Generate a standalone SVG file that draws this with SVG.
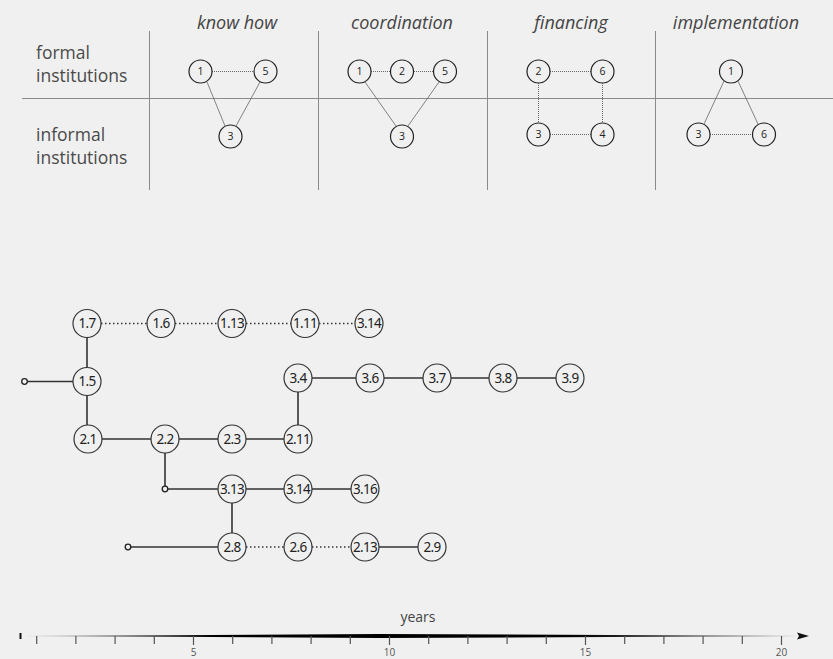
<svg xmlns="http://www.w3.org/2000/svg" width="833" height="659" viewBox="0 0 833 659">
<style>
.bg{fill:#f0f0f0}
.grid{stroke:#8a8a8a;stroke-width:1;fill:none}
.hdr{font-family:"Open Sans","Noto Sans",sans-serif;font-style:italic;font-size:18px;fill:#444;text-anchor:middle}
.row{font-family:"Open Sans","Noto Sans",sans-serif;font-size:17.5px;fill:#4a4a4a}
.sn circle{fill:#f0f0f0;stroke:#222;stroke-width:1.2}
.sn text{font-family:"Open Sans","Noto Sans",sans-serif;font-size:10.5px;fill:#222;text-anchor:middle}
.n circle{fill:#f0f0f0;stroke:#333;stroke-width:1.2}
.n text{font-family:"Noto Sans","Open Sans",sans-serif;font-size:13.5px;fill:#222;text-anchor:middle;letter-spacing:-0.7px}
.sd{stroke:#444;stroke-width:0.8;stroke-dasharray:1 1;fill:none}
.ss{stroke:#666;stroke-width:0.8;fill:none}
.e{stroke:#333;stroke-width:1.6;fill:none}
.d{stroke:#333;stroke-width:1.3;stroke-dasharray:1.5 2.5;fill:none}
.st{fill:#f0f0f0;stroke:#222;stroke-width:1.3}
.tick{stroke:#555;stroke-width:1.2}
.tl{font-family:"Open Sans","Noto Sans",sans-serif;font-size:10px;fill:#555;text-anchor:middle}
</style>
<defs>
<linearGradient id="ax" x1="20" y1="0" x2="800" y2="0" gradientUnits="userSpaceOnUse">
<stop offset="0" stop-color="#888"/>
<stop offset="0.25" stop-color="#000"/>
<stop offset="0.7" stop-color="#000"/>
<stop offset="1" stop-color="#777"/>
</linearGradient>
</defs>
<rect class="bg" x="0" y="0" width="833" height="659"/>

<g id="table">
<line class="grid" x1="22" y1="98.5" x2="833" y2="98.5"/>
<line class="grid" x1="149.5" y1="31" x2="149.5" y2="190"/>
<line class="grid" x1="318.5" y1="31" x2="318.5" y2="190"/>
<line class="grid" x1="487.5" y1="31" x2="487.5" y2="190"/>
<line class="grid" x1="655.5" y1="31" x2="655.5" y2="190"/>
<text class="hdr" x="237" y="29">know how</text>
<text class="hdr" x="402" y="29">coordination</text>
<text class="hdr" x="571" y="29">financing</text>
<text class="hdr" x="736" y="29">implementation</text>
<text class="row" x="36" y="59">formal</text>
<text class="row" x="36" y="82">institutions</text>
<text class="row" x="36" y="141">informal</text>
<text class="row" x="36" y="164">institutions</text>
</g>

<g id="small-edges">
<line class="sd" x1="212" y1="71.5" x2="254" y2="71.5"/>
<line class="ss" x1="207" y1="82" x2="225" y2="126"/>
<line class="ss" x1="260" y1="82" x2="236" y2="126"/>
<line class="sd" x1="371" y1="71.5" x2="390" y2="71.5"/>
<line class="sd" x1="414" y1="71.5" x2="433" y2="71.5"/>
<line class="ss" x1="365" y1="82" x2="396" y2="126"/>
<line class="ss" x1="439" y1="82" x2="408" y2="126"/>
<line class="sd" x1="550" y1="71.5" x2="591" y2="71.5"/>
<line class="sd" x1="538.5" y1="83" x2="538.5" y2="123"/>
<line class="sd" x1="602.5" y1="83" x2="602.5" y2="123"/>
<line class="sd" x1="550" y1="134.5" x2="591" y2="134.5"/>
<line class="ss" x1="724" y1="81" x2="704" y2="124"/>
<line class="ss" x1="738" y1="81" x2="758" y2="124"/>
<line class="sd" x1="710" y1="134.5" x2="752" y2="134.5"/>
</g>

<g id="kh1" class="sn"><circle cx="200.5" cy="71.5" r="11.5"/><text x="200.5" y="75">1</text></g>
<g id="kh5" class="sn"><circle cx="265.5" cy="71.5" r="11.5"/><text x="265.5" y="75">5</text></g>
<g id="kh3" class="sn"><circle cx="230.5" cy="136.5" r="11.5"/><text x="230.5" y="140">3</text></g>
<g id="co1" class="sn"><circle cx="359.5" cy="71.5" r="11.5"/><text x="359.5" y="75">1</text></g>
<g id="co2" class="sn"><circle cx="402" cy="71.5" r="11.5"/><text x="402" y="75">2</text></g>
<g id="co5" class="sn"><circle cx="445" cy="71.5" r="11.5"/><text x="445" y="75">5</text></g>
<g id="co3" class="sn"><circle cx="402" cy="136.5" r="11.5"/><text x="402" y="140">3</text></g>
<g id="fi2" class="sn"><circle cx="538.5" cy="71.5" r="11.5"/><text x="538.5" y="75">2</text></g>
<g id="fi6" class="sn"><circle cx="602.5" cy="71.5" r="11.5"/><text x="602.5" y="75">6</text></g>
<g id="fi3" class="sn"><circle cx="538.5" cy="134.5" r="11.5"/><text x="538.5" y="138">3</text></g>
<g id="fi4" class="sn"><circle cx="602.5" cy="134.5" r="11.5"/><text x="602.5" y="138">4</text></g>
<g id="im1" class="sn"><circle cx="731" cy="71.5" r="11.5"/><text x="731" y="75">1</text></g>
<g id="im3" class="sn"><circle cx="698.5" cy="134.5" r="11.5"/><text x="698.5" y="138">3</text></g>
<g id="im6" class="sn"><circle cx="764" cy="134.5" r="11.5"/><text x="764" y="138">6</text></g>

<g id="connectors">
<line class="e" x1="27" y1="381.5" x2="73" y2="381.5"/>
<line class="e" x1="87" y1="337" x2="87" y2="367"/>
<line class="e" x1="87" y1="396" x2="87" y2="425"/>
<line class="d" x1="101" y1="323.5" x2="147" y2="323.5"/>
<line class="d" x1="175" y1="323.5" x2="218" y2="323.5"/>
<line class="d" x1="246" y1="323.5" x2="291" y2="323.5"/>
<line class="d" x1="319" y1="323.5" x2="355" y2="323.5"/>
<line class="e" x1="102" y1="439" x2="151" y2="439"/>
<line class="e" x1="179" y1="439" x2="218" y2="439"/>
<line class="e" x1="246" y1="439" x2="284" y2="439"/>
<line class="e" x1="298" y1="392" x2="298" y2="425"/>
<line class="e" x1="312" y1="378" x2="356" y2="378"/>
<line class="e" x1="384" y1="378" x2="423" y2="378"/>
<line class="e" x1="451" y1="378" x2="489" y2="378"/>
<line class="e" x1="517" y1="378" x2="556" y2="378"/>
<line class="e" x1="165" y1="453" x2="165" y2="486"/>
<line class="e" x1="168" y1="489" x2="218" y2="489"/>
<line class="e" x1="246" y1="489" x2="284" y2="489"/>
<line class="e" x1="312" y1="489" x2="351" y2="489"/>
<line class="e" x1="232" y1="503" x2="232" y2="533"/>
<line class="e" x1="131" y1="547" x2="218" y2="547"/>
<line class="d" x1="246" y1="547" x2="284" y2="547"/>
<line class="d" x1="312" y1="547" x2="351" y2="547"/>
<line class="e" x1="379" y1="547" x2="418" y2="547"/>
<circle class="st" cx="24.5" cy="381.5" r="2.8"/>
<circle class="st" cx="165" cy="489" r="2.8"/>
<circle class="st" cx="128" cy="547" r="2.8"/>
</g>

<g id="n1_7" class="n"><circle cx="87" cy="323.5" r="14"/><text x="87" y="328">1.7</text></g>
<g id="n1_6" class="n"><circle cx="161" cy="323.5" r="14"/><text x="161" y="328">1.6</text></g>
<g id="n1_13" class="n"><circle cx="232" cy="323.5" r="14"/><text x="232" y="328">1.13</text></g>
<g id="n1_11" class="n"><circle cx="305" cy="323.5" r="14"/><text x="305" y="328">1.11</text></g>
<g id="n3_14a" class="n"><circle cx="369" cy="323.5" r="14"/><text x="369" y="328">3.14</text></g>
<g id="n1_5" class="n"><circle cx="87" cy="381.5" r="14"/><text x="87" y="386">1.5</text></g>
<g id="n2_1" class="n"><circle cx="88" cy="439" r="14"/><text x="88" y="443.5">2.1</text></g>
<g id="n2_2" class="n"><circle cx="165" cy="439" r="14"/><text x="165" y="443.5">2.2</text></g>
<g id="n2_3" class="n"><circle cx="232" cy="439" r="14"/><text x="232" y="443.5">2.3</text></g>
<g id="n2_11" class="n"><circle cx="298" cy="439" r="14"/><text x="298" y="443.5">2.11</text></g>
<g id="n3_4" class="n"><circle cx="298" cy="378" r="14"/><text x="298" y="382.5">3.4</text></g>
<g id="n3_6" class="n"><circle cx="370" cy="378" r="14"/><text x="370" y="382.5">3.6</text></g>
<g id="n3_7" class="n"><circle cx="437" cy="378" r="14"/><text x="437" y="382.5">3.7</text></g>
<g id="n3_8" class="n"><circle cx="503" cy="378" r="14"/><text x="503" y="382.5">3.8</text></g>
<g id="n3_9" class="n"><circle cx="570" cy="378" r="14"/><text x="570" y="382.5">3.9</text></g>
<g id="n3_13" class="n"><circle cx="232" cy="489" r="14"/><text x="232" y="493.5">3.13</text></g>
<g id="n3_14b" class="n"><circle cx="298" cy="489" r="14"/><text x="298" y="493.5">3.14</text></g>
<g id="n3_16" class="n"><circle cx="365" cy="489" r="14"/><text x="365" y="493.5">3.16</text></g>
<g id="n2_8" class="n"><circle cx="232" cy="547" r="14"/><text x="232" y="551.5">2.8</text></g>
<g id="n2_6" class="n"><circle cx="298" cy="547" r="14"/><text x="298" y="551.5">2.6</text></g>
<g id="n2_13" class="n"><circle cx="365" cy="547" r="14"/><text x="365" y="551.5">2.13</text></g>
<g id="n2_9" class="n"><circle cx="432" cy="547" r="14"/><text x="432" y="551.5">2.9</text></g>

<g id="axis">
<text x="418" y="622" font-family="'Open Sans','Noto Sans',sans-serif" font-size="14" fill="#444" text-anchor="middle">years</text>
<rect x="19.5" y="633" width="2" height="6" fill="#111"/>
<polygon points="24,636 380,634 800,636 380,638" fill="url(#ax)"/>
<polygon points="809,636 797,632.5 799,636 797,639.5" fill="#111"/>
<g class="tick">
<line x1="36.7" y1="636" x2="36.7" y2="644"/>
<line x1="75.9" y1="636" x2="75.9" y2="644"/>
<line x1="115.1" y1="636" x2="115.1" y2="644"/>
<line x1="154.3" y1="636" x2="154.3" y2="644"/>
<line x1="193.5" y1="636" x2="193.5" y2="645"/>
<line x1="232.7" y1="636" x2="232.7" y2="644"/>
<line x1="271.9" y1="636" x2="271.9" y2="644"/>
<line x1="311.1" y1="636" x2="311.1" y2="644"/>
<line x1="350.3" y1="636" x2="350.3" y2="644"/>
<line x1="389.5" y1="636" x2="389.5" y2="645"/>
<line x1="428.7" y1="636" x2="428.7" y2="644"/>
<line x1="467.9" y1="636" x2="467.9" y2="644"/>
<line x1="507.1" y1="636" x2="507.1" y2="644"/>
<line x1="546.3" y1="636" x2="546.3" y2="644"/>
<line x1="585.5" y1="636" x2="585.5" y2="645"/>
<line x1="624.7" y1="636" x2="624.7" y2="644"/>
<line x1="663.9" y1="636" x2="663.9" y2="644"/>
<line x1="703.1" y1="636" x2="703.1" y2="644"/>
<line x1="742.3" y1="636" x2="742.3" y2="644"/>
<line x1="781.5" y1="636" x2="781.5" y2="645"/>
</g>
<text class="tl" x="193.5" y="656">5</text>
<text class="tl" x="389.5" y="656">10</text>
<text class="tl" x="585.5" y="656">15</text>
<text class="tl" x="781.5" y="656">20</text>
</g>
</svg>
